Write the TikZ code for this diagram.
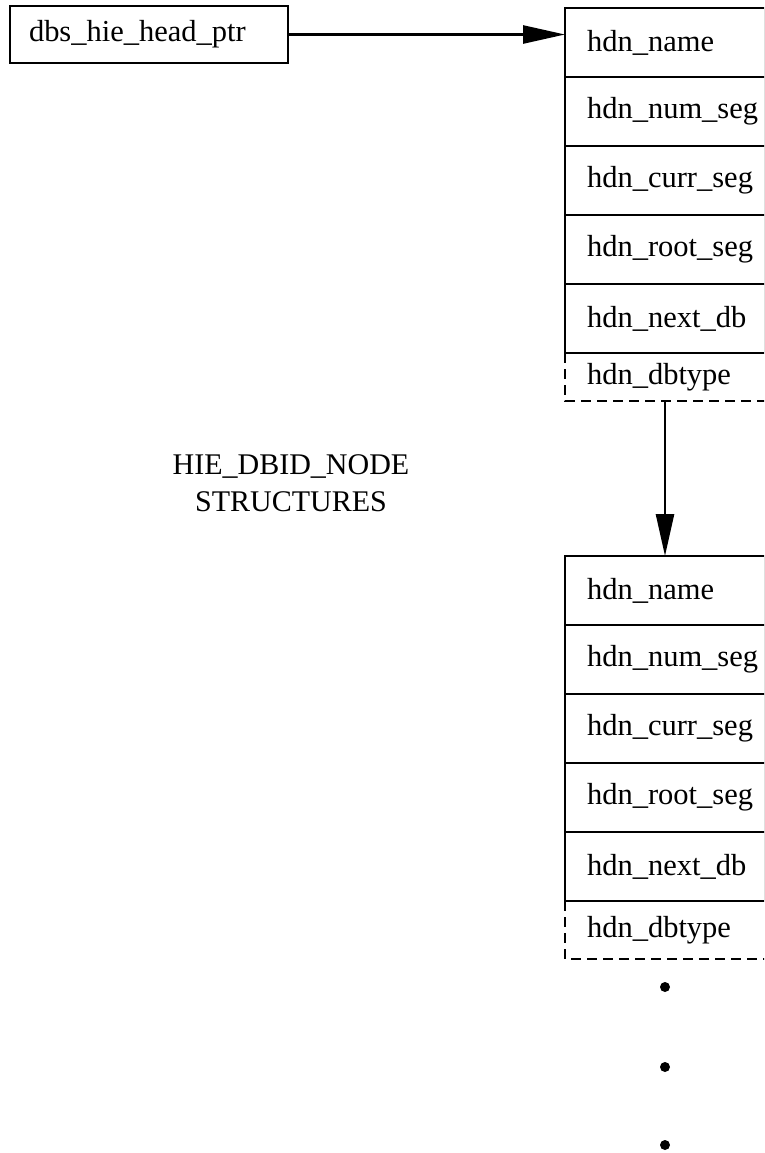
\documentclass[tikz,border=0pt]{standalone}
\usepackage{fontspec}
\setmainfont{Liberation Serif}
\usetikzlibrary{arrows.meta, positioning}

\begin{document}
\begin{tikzpicture}[x=0.5pt, y=-0.5pt]
    % --- Style Definitions ---
    \tikzset{
        % One field of a HIE_DBID_NODE record
        field/.style={
            draw=black,
            line width=1.3pt,
            minimum width=100pt,
            minimum height=34.5pt,
            text width=78pt,
            inner xsep=11pt,
            inner ysep=0pt,
            outer sep=0pt,
            align=left,
            font=\fontsize{15.25}{18.5}\selectfont
        },
        % The last field, drawn with a dashed edge
        open field/.style={
            field,
            draw=none
        },
        dashed edge/.style={
            line width=1.3pt,
            dash pattern=on 5pt off 3pt
        },
        % The head pointer box
        head box/.style={
            field,
            minimum width=139pt,
            minimum height=28.5pt,
            text width=120pt,
            inner xsep=9.5pt
        },
        label text/.style={
            align=center,
            font=\fontsize{15}{18.5}\selectfont
        },
        link arrow/.style={
            -{Triangle[length=21pt, width=9pt]},
            line width=1.3pt
        },
        dot/.style={
            circle,
            fill=black,
            inner sep=0pt,
            minimum size=5pt
        }
    }

    \useasboundingbox (0,0) rectangle (765,1153);
    \clip (0,0) rectangle (764,1153);

    % --- 1. Head pointer ---
    \node[head box, anchor=north west] (headptr) at (10,6) {dbs\_hie\_head\_ptr};

    % --- 2. First node record ---
    \node[field, anchor=north west] (name1) at (565,8) {hdn\_name};
    \node[field, below=0pt of name1] (numseg1) {hdn\_num\_seg};
    \node[field, below=0pt of numseg1] (currseg1) {hdn\_curr\_seg};
    \node[field, below=0pt of currseg1] (rootseg1) {hdn\_root\_seg};
    \node[field, below=0pt of rootseg1] (nextdb1) {hdn\_next\_db};
    \node[open field, minimum height=24pt, below=0pt of nextdb1] (dbtype1) {hdn\_dbtype};
    \draw[dashed edge] (dbtype1.north west) -- (dbtype1.south west) -- (dbtype1.south east);

    % --- 3. Second node record ---
    \node[field, anchor=north west] (name2) at (565,556) {hdn\_name};
    \node[field, below=0pt of name2] (numseg2) {hdn\_num\_seg};
    \node[field, below=0pt of numseg2] (currseg2) {hdn\_curr\_seg};
    \node[field, below=0pt of currseg2] (rootseg2) {hdn\_root\_seg};
    \node[field, below=0pt of rootseg2] (nextdb2) {hdn\_next\_db};
    \node[open field, minimum height=29pt, below=0pt of nextdb2] (dbtype2) {hdn\_dbtype};
    \draw[dashed edge] (dbtype2.north west) -- (dbtype2.south west) -- (dbtype2.south east);

    % --- 4. Caption ---
    \node[label text] (caption) at (291,483) {HIE\_DBID\_NODE\\STRUCTURES};

    % --- 5. Links ---
    \draw[link arrow] (headptr.east) -- (headptr.east -| name1.west);
    \draw[link arrow] (dbtype1.south) -- (name2.north);

    % --- 6. More records follow ---
    \node[dot] (more1) at (665,987) {};
    \node[dot] (more2) at (665,1067) {};
    \node[dot] (more3) at (665,1145) {};

\end{tikzpicture}
\end{document}
